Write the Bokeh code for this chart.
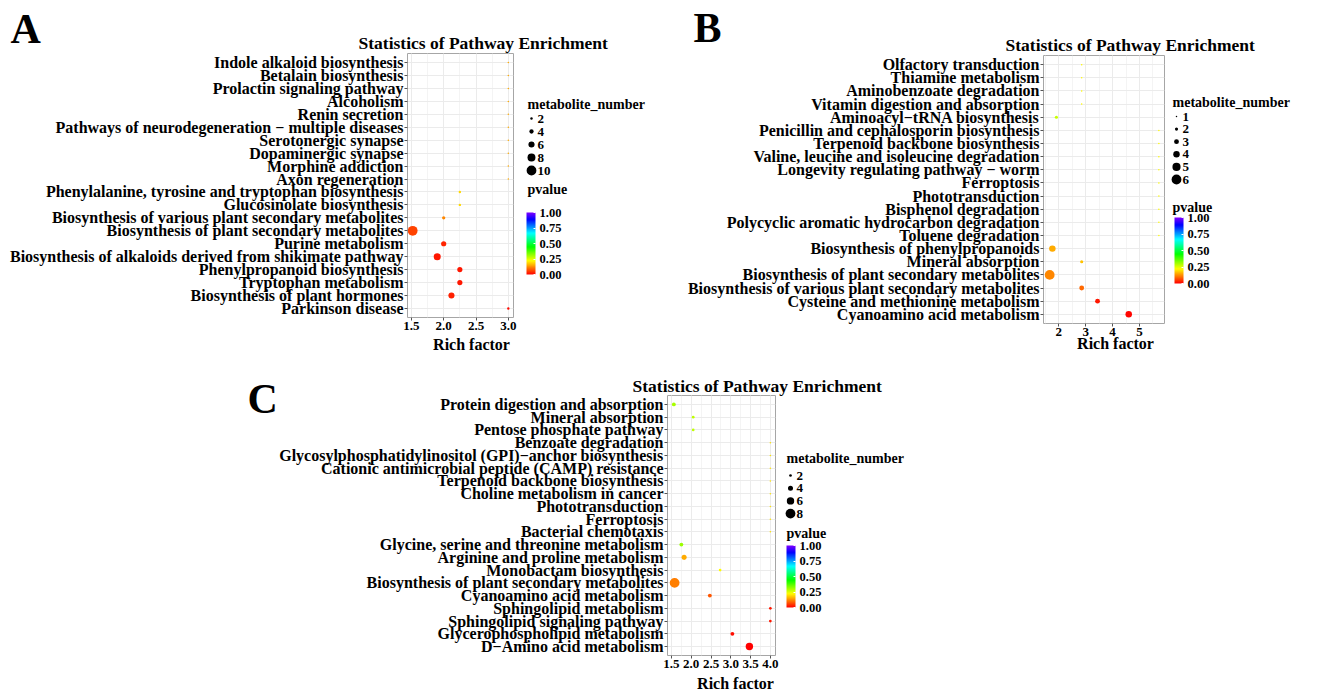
import colorsys
from bokeh.plotting import figure
from bokeh.models import (ColumnDataSource, FactorRange, Range1d, LinearColorMapper, ColorBar,
                          FixedTicker, SingleIntervalTicker, PrintfTickFormatter,
                          LinearInterpolator)
from bokeh.transform import transform
from bokeh.core.properties import value
from bokeh.embed import file_html
from bokeh.resources import INLINE

# ---------------- data (top row of each panel first) ----------------
a_pathway = ["Indole alkaloid biosynthesis", "Betalain biosynthesis", "Prolactin signaling pathway",
             "Alcoholism", "Renin secretion", "Pathways of neurodegeneration \u2212 multiple diseases",
             "Serotonergic synapse", "Dopaminergic synapse", "Morphine addiction", "Axon regeneration",
             "Phenylalanine, tyrosine and tryptophan biosynthesis", "Glucosinolate biosynthesis",
             "Biosynthesis of various plant secondary metabolites", "Biosynthesis of plant secondary metabolites",
             "Purine metabolism", "Biosynthesis of alkaloids derived from shikimate pathway",
             "Phenylpropanoid biosynthesis", "Tryptophan metabolism", "Biosynthesis of plant hormones",
             "Parkinson disease"]
a_rich_factor = [3.0, 3.0, 3.0, 3.0, 3.0, 3.0, 3.0, 3.0, 3.0, 3.0,
                 2.25, 2.25, 2.0, 1.52, 2.0, 1.9, 2.25, 2.25, 2.12, 3.0]
a_metabolite_number = [1, 1, 1, 1, 1, 1, 1, 1, 1, 1, 2, 2, 3, 10, 5, 7, 5, 5, 6, 2]
a_pvalue = [0.15, 0.15, 0.15, 0.15, 0.15, 0.15, 0.15, 0.15, 0.15, 0.15,
            0.19, 0.19, 0.12, 0.06, 0.035, 0.02, 0.02, 0.02, 0.03, 0.01]
a_number_legend = [2, 4, 6, 8, 10]

b_pathway = ["Olfactory transduction", "Thiamine metabolism", "Aminobenzoate degradation",
             "Vitamin digestion and absorption", "Aminoacyl\u2212tRNA biosynthesis",
             "Penicillin and cephalosporin biosynthesis", "Terpenoid backbone biosynthesis",
             "Valine, leucine and isoleucine degradation", "Longevity regulating pathway \u2212 worm",
             "Ferroptosis", "Phototransduction", "Bisphenol degradation",
             "Polycyclic aromatic hydrocarbon degradation", "Toluene degradation",
             "Biosynthesis of phenylpropanoids", "Mineral absorption",
             "Biosynthesis of plant secondary metabolites", "Biosynthesis of various plant secondary metabolites",
             "Cysteine and methionine metabolism", "Cyanoamino acid metabolism"]
b_rich_factor = [2.85, 2.85, 2.85, 2.85, 1.91, 5.72, 5.72, 5.72, 5.72, 5.72,
                 5.72, 5.72, 5.72, 5.72, 1.76, 2.85, 1.66, 2.85, 3.44, 4.6]
b_metabolite_number = [1, 1, 1, 1, 2, 1, 1, 1, 1, 1, 1, 1, 1, 1, 4, 2, 6, 3, 3, 4]
b_pvalue = [0.22, 0.22, 0.22, 0.22, 0.27, 0.22, 0.22, 0.22, 0.22, 0.22,
            0.22, 0.22, 0.22, 0.22, 0.15, 0.17, 0.12, 0.09, 0.02, 0.005]
b_number_legend = [1, 2, 3, 4, 5, 6]

c_pathway = ["Protein digestion and absorption", "Mineral absorption", "Pentose phosphate pathway",
             "Benzoate degradation", "Glycosylphosphatidylinositol (GPI)\u2212anchor biosynthesis",
             "Cationic antimicrobial peptide (CAMP) resistance", "Terpenoid backbone biosynthesis",
             "Choline metabolism in cancer", "Phototransduction", "Ferroptosis", "Bacterial chemotaxis",
             "Glycine, serine and threonine metabolism", "Arginine and proline metabolism",
             "Monobactam biosynthesis", "Biosynthesis of plant secondary metabolites",
             "Cyanoamino acid metabolism", "Sphingolipid metabolism", "Sphingolipid signaling pathway",
             "Glycerophospholipid metabolism", "D\u2212Amino acid metabolism"]
c_rich_factor = [1.56, 2.05, 2.05, 4.0, 4.0, 4.0, 4.0, 4.0, 4.0, 4.0,
                 4.0, 1.75, 1.82, 2.73, 1.58, 2.47, 4.0, 4.0, 3.04, 3.47]
c_metabolite_number = [3, 2, 2, 1, 1, 1, 1, 1, 1, 1, 1, 3, 4, 2, 8, 3, 2, 2, 3, 6]
c_pvalue = [0.30, 0.28, 0.28, 0.2, 0.2, 0.2, 0.2, 0.2, 0.2, 0.2,
            0.2, 0.31, 0.15, 0.22, 0.11, 0.075, 0.02, 0.02, 0.015, 0.003]
c_number_legend = [2, 4, 6, 8]

pvalue_ticks = [0.0, 0.25, 0.5, 0.75, 1.0]
panel_letters = ["A", "B", "C"]
title_text = "Statistics of Pathway Enrichment"
x_label = "Rich factor"
size_legend_title = "metabolite_number"
color_legend_title = "pvalue"

# ---------------- style ----------------
FONT = "Liberation Serif"
PAGE_W, PAGE_H = 1320, 692


def hsv_hex(h):
    r, g, b = colorsys.hsv_to_rgb(h, 1.0, 1.0)
    return "#%02x%02x%02x" % (round(r * 255), round(g * 255), round(b * 255))


palette = [hsv_hex(0.75 * i / 255) for i in range(256)]
cmap = LinearColorMapper(palette=palette, low=0, high=1)


def place(fig, left, top):
    fig.styles = {"position": "absolute", "left": "%dpx" % left, "top": "%dpx" % top}


def make_main(names, rich, number, pval, g):
    bl = g["frame_left"] - g["left"]
    bt = g["frame_top"] - g["top"]
    p = figure(width=bl + g["frame_w"] + 5, height=bt + g["frame_h"] + 25,
               x_range=Range1d(*g["xr"]),
               y_range=FactorRange(factors=list(reversed(names)), range_padding=0.2,
                                   range_padding_units="absolute"),
               output_backend="svg", toolbar_location=None, title=None,
               min_border_left=bl, min_border_right=5, min_border_top=bt, min_border_bottom=25)
    place(p, g["left"], g["top"])
    src = ColumnDataSource(dict(name=names, rich=rich, number=number, pvalue=pval))
    interp = LinearInterpolator(x=[min(number), max(number)], y=[1.5, 9.8])
    p.scatter("rich", "name", source=src, size=transform("number", interp),
              fill_color=transform("pvalue", cmap), line_color=None, marker="circle")
    p.xaxis.ticker = SingleIntervalTicker(interval=g["interval"], num_minor_ticks=2)
    p.xaxis.formatter = PrintfTickFormatter(format=g["fmt"])
    for ax in (p.xaxis[0], p.yaxis[0]):
        ax.axis_line_color = None
        ax.major_tick_in = 0
        ax.major_tick_out = 3
        ax.minor_tick_line_color = None
        ax.major_tick_line_color = "#555555"
        ax.major_label_text_font = FONT
        ax.major_label_text_font_style = "bold"
        ax.major_label_text_color = "black"
    p.xaxis.major_label_text_font_size = "13px"
    p.xaxis.major_label_standoff = 0
    p.yaxis.major_label_text_font_size = "16px"
    p.yaxis.major_label_standoff = 1
    p.xgrid.grid_line_color = "#EBEBEB"
    p.xgrid.minor_grid_line_color = "#F4F4F4"
    p.ygrid.grid_line_color = "#EBEBEB"
    p.outline_line_color = "#A6A6A6"
    return p, interp


# main panels: figure origin and plot-frame box in page pixels
gA = dict(left=0, top=0, frame_left=407, frame_top=53, frame_w=106, frame_h=264,
          xr=(1.44, 3.08), interval=0.5, fmt="%.1f")
gB = dict(left=676, top=0, frame_left=1043, frame_top=55, frame_w=121, frame_h=268,
          xr=(1.43, 5.93), interval=1, fmt="%d")
gC = dict(left=250, top=370, frame_left=667, frame_top=395, frame_w=108, frame_h=260,
          xr=(1.40, 4.13), interval=0.5, fmt="%.1f")

pA, iA = make_main(a_pathway, a_rich_factor, a_metabolite_number, a_pvalue, gA)
pB, iB = make_main(b_pathway, b_rich_factor, b_metabolite_number, b_pvalue, gB)
pC, iC = make_main(c_pathway, c_rich_factor, c_metabolite_number, c_pvalue, gC)

# ---------------- transparent overlay for titles, letters and legends ----------------
ov = figure(width=PAGE_W, height=PAGE_H, x_range=Range1d(0, PAGE_W), y_range=Range1d(PAGE_H, 0),
            x_axis_location=None, y_axis_location=None, title=None,
            output_backend="svg", toolbar_location=None, min_border=0)
ov.background_fill_color = None
ov.border_fill_color = None
ov.outline_line_color = None
ov.grid.visible = False
place(ov, 0, 0)

txt = dict(text_font=value(FONT), text_font_style="bold", text_color="black",
           text_baseline="middle")
ov.text(x=[10, 693, 247], y=[28, 27, 398], text=panel_letters, text_font_size="42px", **txt)
ov.text(x=[358, 1005, 632], y=[42, 44, 385], text=[title_text] * 3, text_font_size="17.5px", **txt)
ov.text(x=[471, 1115, 735], y=[344, 343, 683], text=[x_label] * 3, text_font_size="16px",
        text_align="center", **txt)


def draw_legend(values, interp, g):
    n = len(values)
    ys = [g["item_y0"] + i * g["item_step"] for i in range(n)]
    src = ColumnDataSource(dict(v=values, y=ys, x=[g["dot_x"]] * n, tx=[g["num_x"]] * n,
                                t=[str(v) for v in values]))
    ov.scatter("x", "y", source=src, size=transform("v", interp), fill_color="black",
               line_color=None, marker="circle")
    ov.text("tx", "y", text="t", source=src, text_font_size="13px", **txt)
    ov.text(x=[g["title_xy"][0]], y=[g["title_xy"][1]], text=[size_legend_title],
            text_font_size="14px", **txt)
    ov.text(x=[g["pv_xy"][0]], y=[g["pv_xy"][1]], text=[color_legend_title],
            text_font_size="14px", **txt)
    bx, btop, bbot = g["bar"]
    cb = ColorBar(color_mapper=cmap, ticker=FixedTicker(ticks=pvalue_ticks),
                  formatter=PrintfTickFormatter(format="%.2f"),
                  width=9, height=bbot - btop, location=(bx, PAGE_H - bbot),
                  padding=0, margin=0,
                  major_tick_line_color="white", major_tick_in=2, major_tick_out=0,
                  minor_tick_line_color=None, label_standoff=4,
                  major_label_text_font=FONT, major_label_text_font_style="bold",
                  major_label_text_font_size="12.5px", major_label_text_color="black",
                  background_fill_alpha=0, bar_line_color=None, border_line_color=None)
    ov.add_layout(cb)


lA = dict(title_xy=(527, 104), item_y0=118, item_step=13, dot_x=531, num_x=537,
          pv_xy=(527, 189), bar=(526, 212, 274))
lB = dict(title_xy=(1172, 102), item_y0=116, item_step=12.6, dot_x=1176, num_x=1182,
          pv_xy=(1172, 207), bar=(1174, 217, 283))
lC = dict(title_xy=(786, 458), item_y0=475, item_step=12.7, dot_x=790, num_x=796,
          pv_xy=(786, 533), bar=(786, 545, 607))
draw_legend(a_number_legend, iA, lA)
draw_legend(b_number_legend, iB, lB)
draw_legend(c_number_legend, iC, lC)

open("out.html", "w").write(file_html([pA, pB, pC, ov], INLINE))
